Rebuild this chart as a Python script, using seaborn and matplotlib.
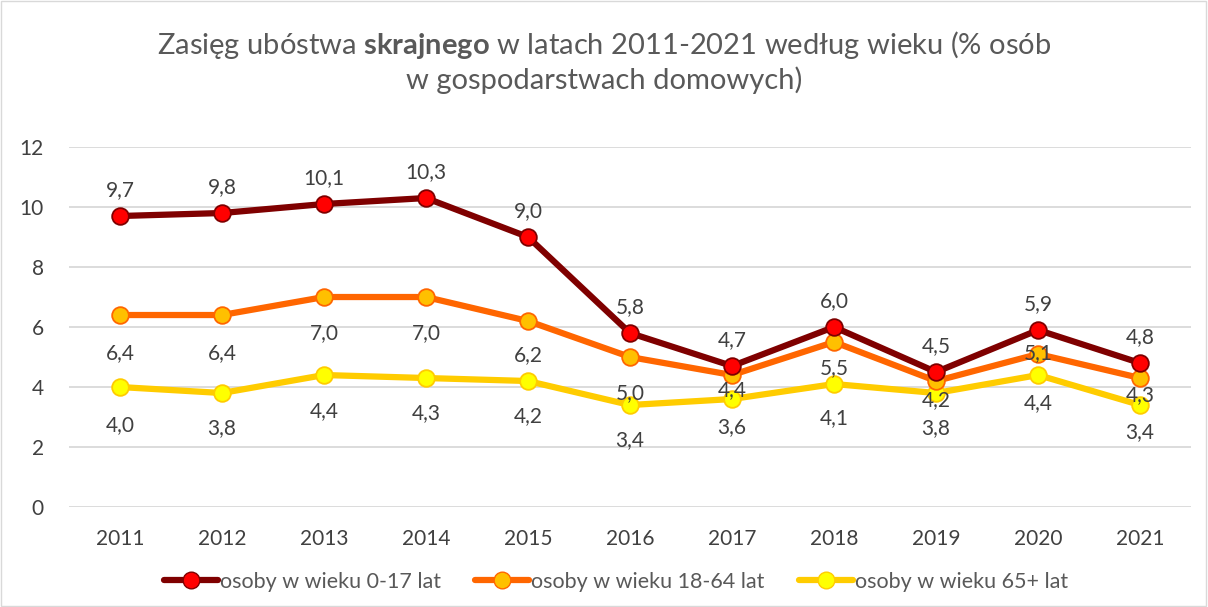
import matplotlib
matplotlib.use("Agg")
import matplotlib.pyplot as plt
import seaborn as sns
import pandas as pd
from matplotlib.lines import Line2D
from matplotlib.patches import Rectangle

# data
years = [2011, 2012, 2013, 2014, 2015, 2016, 2017, 2018, 2019, 2020, 2021]
age_0_17 = [9.7, 9.8, 10.1, 10.3, 9.0, 5.8, 4.7, 6.0, 4.5, 5.9, 4.8]
age_18_64 = [6.4, 6.4, 7.0, 7.0, 6.2, 5.0, 4.4, 5.5, 4.2, 5.1, 4.3]
age_65_plus = [4.0, 3.8, 4.4, 4.3, 4.2, 3.4, 3.6, 4.1, 3.8, 4.4, 3.4]
series_names = ["osoby w wieku 0-17 lat", "osoby w wieku 18-64 lat", "osoby w wieku 65+ lat"]

rows = []
for name, vals in zip(series_names, [age_0_17, age_18_64, age_65_plus]):
    for i, (y, v) in enumerate(zip(years, vals)):
        rows.append({"pos": i, "rok": y, "wartosc": v, "grupa": name})
df = pd.DataFrame(rows)

# label offsets (pixels, positive = below the point), as placed in the original
off_red = [-26] * 11
off_orange = [38, 38, 36, 36, 34, 36, 15, 26, 19, -1, 17]
off_yellow = [38, 35, 36, 35, 35, 35, 28, 34, 35, 28, 27]
offsets = [off_red, off_orange, off_yellow]

sns.set_style("white")
plt.rcParams["font.family"] = ["Lato", "DejaVu Sans"]
plt.rcParams["mathtext.fontset"] = "custom"
plt.rcParams["mathtext.rm"] = "Lato"
plt.rcParams["mathtext.bf"] = "Lato:bold"

txt = "#404040"
line_cols = ["#7F0000", "#FF6600", "#FFCC00"]
face_cols = ["#FF0000", "#FFC000", "#FFFF00"]

fig = plt.figure(figsize=(12.08, 6.07), dpi=100)
ax = fig.add_axes([0.0571, 0.1647, 0.9289, 0.5931])

for k, name in enumerate(series_names):
    sub = df[df["grupa"] == name]
    sns.lineplot(data=sub, x="pos", y="wartosc", ax=ax, color=line_cols[k],
                 linewidth=4.5, marker="o", markersize=12,
                 markerfacecolor=face_cols[k], markeredgecolor=line_cols[k],
                 markeredgewidth=1.3, zorder=3 + (2 - k), legend=False)
    for j, (_, r) in enumerate(sub.iterrows()):
        ax.annotate(f"{r['wartosc']:.1f}".replace(".", ","), (r["pos"], r["wartosc"]),
                    xytext=(0, -offsets[k][j] * 0.72), textcoords="offset points",
                    ha="center", va="center", fontsize=15, color=txt, zorder=10)

ax.set_xlim(-0.5, len(years) - 0.5)
ax.set_ylim(0, 12)
ax.set_yticks(range(0, 13, 2))
ax.set_xticks(range(len(years)))
ax.set_xticklabels([str(y) for y in years])
ax.tick_params(axis="both", length=0, labelsize=15, labelcolor=txt)
ax.tick_params(axis="y", pad=18)
ax.tick_params(axis="x", pad=16)
ax.grid(axis="y", color="#D9D9D9", linewidth=1.3)
ax.set_axisbelow(True)
for s in ax.spines.values():
    s.set_visible(False)
ax.set_xlabel("")
ax.set_ylabel("")

fig.text(0.5, 1 - 45 / 607, r"Zasięg ubóstwa $\bf{skrajnego}$ w latach 2011-2021 według wieku (% osób",
         ha="center", va="center", fontsize=21, color="#595959")
fig.text(0.5, 1 - 80 / 607, "w gospodarstwach domowych)",
         ha="center", va="center", fontsize=21, color="#595959")

handles = [Line2D([0], [0], color=line_cols[k], linewidth=4.5, marker="o", markersize=12,
                  markerfacecolor=face_cols[k], markeredgecolor=line_cols[k])
           for k in range(3)]
fig.legend(handles, series_names, loc="center", bbox_to_anchor=(0.51, 1 - 582 / 607),
           ncol=3, frameon=False, fontsize=15.5, labelcolor="#595959",
           handlelength=2.5, handletextpad=0.1, columnspacing=1.6)

fig.patches.append(Rectangle((0.001, 0.002), 0.997, 0.996, transform=fig.transFigure,
                             fill=False, edgecolor="#D9D9D9", linewidth=1))

fig.savefig("out.png", dpi=100)
